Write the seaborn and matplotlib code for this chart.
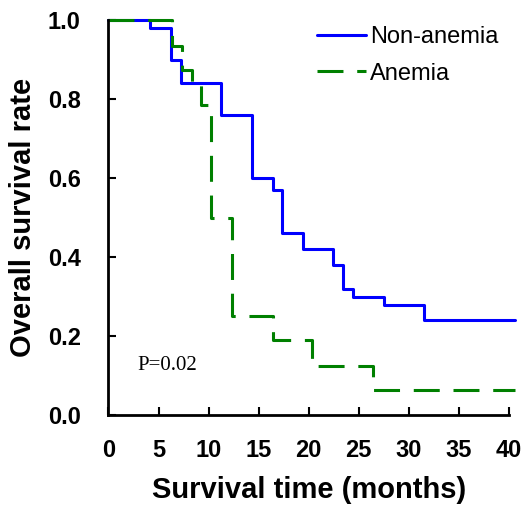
import numpy as np
import pandas as pd
import matplotlib
matplotlib.use("Agg")
import matplotlib.pyplot as plt
import seaborn as sns

# Kaplan-Meier step values
non_anemia_time = [0, 4.2, 6.2, 7.2, 11.2, 14.3, 16.4, 17.3, 19.4, 22.4, 23.4, 24.4, 27.5, 31.5, 40.6]
non_anemia_surv = [1.0, 0.98, 0.90, 0.84, 0.76, 0.60, 0.57, 0.46, 0.42, 0.38, 0.32, 0.30, 0.28, 0.24, 0.24]

anemia_time = [0, 6.3, 7.3, 8.3, 9.2, 10.2, 12.3, 16.4, 20.3, 26.4, 40.6]
anemia_surv = [1.0, 0.935, 0.875, 0.84, 0.785, 0.50, 0.25, 0.19, 0.125, 0.0625, 0.0625]

groups = ["Non-anemia", "Anemia"]
x_ticks = [0, 5, 10, 15, 20, 25, 30, 35, 40]
y_ticks = [0.0, 0.2, 0.4, 0.6, 0.8, 1.0]
p_text = "P=0.02"

df = pd.concat([
    pd.DataFrame({"time": non_anemia_time, "surv": non_anemia_surv, "group": groups[0]}),
    pd.DataFrame({"time": anemia_time, "surv": anemia_surv, "group": groups[1]}),
], ignore_index=True)

sns.set_style("ticks")
plt.rcParams["font.family"] = ["Liberation Sans", "DejaVu Sans"]
plt.rcParams.update({"text.color": "black", "axes.labelcolor": "black",
                     "xtick.color": "black", "ytick.color": "black"})

fig = plt.figure(figsize=(5.29, 5.05), dpi=100)
ax = fig.add_axes([0.205, 0.178, 0.757, 0.782])

sns.lineplot(data=df, x="time", y="surv", hue="group", style="group",
             hue_order=groups, style_order=groups,
             palette={"Non-anemia": "#0000ff", "Anemia": "#008000"},
             dashes={"Non-anemia": "", "Anemia": (8.5, 4.5)},
             estimator=None, sort=True, drawstyle="steps-post",
             linewidth=2.2, legend=False, ax=ax)
for ln in ax.get_lines():
    ln.set_clip_on(False)
    ln.set_dash_capstyle("butt")

ax.set_xlim(0, 40)
ax.set_ylim(0, 1.0)
ax.set_xticks(x_ticks)
ax.set_yticks(y_ticks)
ax.set_yticklabels([f"{v:.1f}" for v in y_ticks])
ax.tick_params(direction="in", length=6, width=1.5, labelsize=17)
ax.tick_params(axis="x", pad=17)
ax.tick_params(axis="y", pad=20)
for lab in ax.get_xticklabels() + ax.get_yticklabels():
    lab.set_fontweight("bold")
sns.despine(ax=ax)
for s in ["left", "bottom"]:
    ax.spines[s].set_linewidth(2)
    ax.spines[s].set_color("black")

ax.set_xlabel("Survival time (months)", fontsize=21, fontweight="bold", labelpad=10)
ax.set_ylabel("Overall survival rate", fontsize=21, fontweight="bold", labelpad=8)

ax.text(2.85, 0.125, p_text, fontsize=15, family=["Liberation Serif", "DejaVu Serif"],
        va="center", ha="left")

handles = ax.get_lines()[:2]
ax.legend(handles, groups, loc="upper left", bbox_to_anchor=(0.52, 0.985),
          frameon=False, fontsize=17, handlelength=2.1, handletextpad=0.15,
          labelspacing=0.62, borderpad=0, borderaxespad=0)

fig.savefig("out.png", dpi=100)
